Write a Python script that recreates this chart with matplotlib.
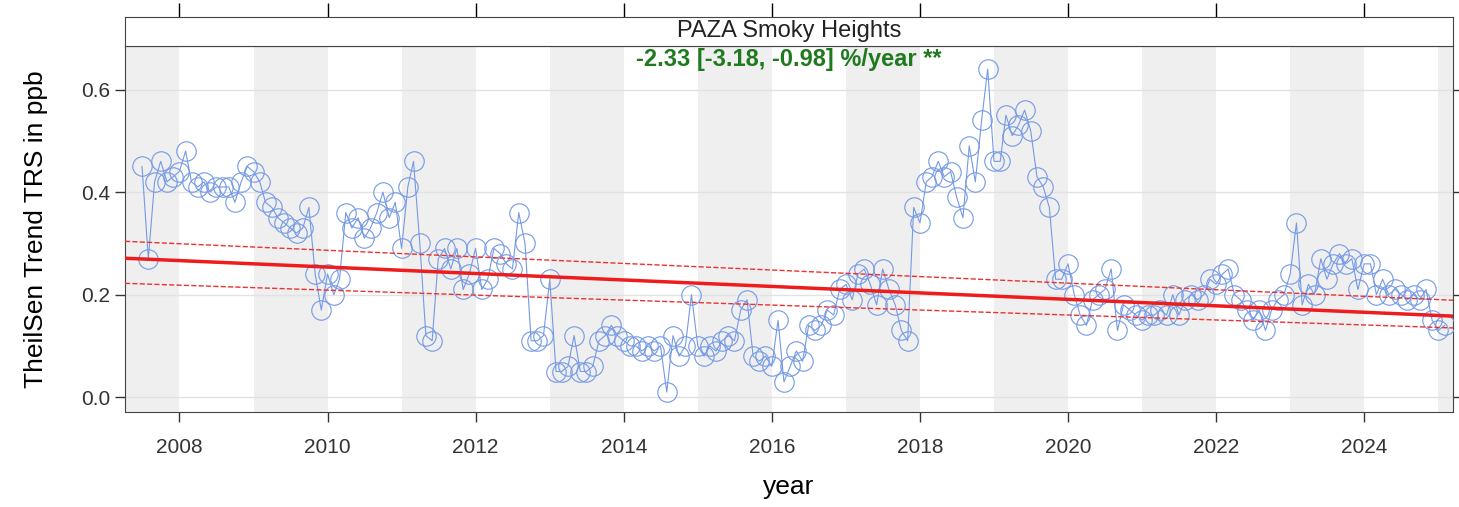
import matplotlib.pyplot as plt
import matplotlib.dates as mdates
import pandas as pd

plt.rcParams['font.family'] = ['Liberation Sans', 'DejaVu Sans']

# monthly mean TRS (ppb), Jul 2007 .. Feb 2025
trs = [
    0.45, 0.27, 0.42, 0.46, 0.42, 0.43,                                      # 2007
    0.44, 0.48, 0.42, 0.41, 0.42, 0.40, 0.41, 0.41, 0.41, 0.38, 0.42, 0.45,  # 2008
    0.44, 0.42, 0.38, 0.37, 0.35, 0.34, 0.33, 0.32, 0.33, 0.37, 0.24, 0.17,  # 2009
    0.24, 0.20, 0.23, 0.36, 0.33, 0.35, 0.31, 0.33, 0.36, 0.40, 0.35, 0.38,  # 2010
    0.29, 0.41, 0.46, 0.30, 0.12, 0.11, 0.27, 0.29, 0.25, 0.29, 0.21, 0.24,  # 2011
    0.29, 0.21, 0.23, 0.29, 0.28, 0.26, 0.25, 0.36, 0.30, 0.11, 0.11, 0.12,  # 2012
    0.23, 0.05, 0.05, 0.06, 0.12, 0.05, 0.05, 0.06, 0.11, 0.12, 0.14, 0.12,  # 2013
    0.11, 0.10, 0.10, 0.09, 0.10, 0.09, 0.10, 0.01, 0.12, 0.08, 0.10, 0.20,  # 2014
    0.10, 0.08, 0.10, 0.09, 0.11, 0.12, 0.11, 0.17, 0.19, 0.08, 0.07, 0.08,  # 2015
    0.06, 0.15, 0.03, 0.06, 0.09, 0.07, 0.14, 0.13, 0.14, 0.17, 0.16, 0.21,  # 2016
    0.22, 0.19, 0.24, 0.25, 0.22, 0.18, 0.25, 0.21, 0.18, 0.13, 0.11, 0.37,  # 2017
    0.34, 0.42, 0.43, 0.46, 0.43, 0.44, 0.39, 0.35, 0.49, 0.42, 0.54, 0.64,  # 2018
    0.46, 0.46, 0.55, 0.51, 0.53, 0.56, 0.52, 0.43, 0.41, 0.37, 0.23, 0.23,  # 2019
    0.26, 0.20, 0.16, 0.14, 0.19, 0.20, 0.21, 0.25, 0.13, 0.18, 0.17, 0.16,  # 2020
    0.15, 0.16, 0.16, 0.17, 0.16, 0.20, 0.16, 0.19, 0.20, 0.19, 0.20, 0.23,  # 2021
    0.22, 0.24, 0.25, 0.20, 0.19, 0.17, 0.15, 0.17, 0.13, 0.17, 0.19, 0.20,  # 2022
    0.24, 0.34, 0.18, 0.22, 0.20, 0.27, 0.23, 0.26, 0.28, 0.26, 0.27, 0.21,  # 2023
    0.26, 0.26, 0.20, 0.23, 0.20, 0.21, 0.20, 0.19, 0.20, 0.19, 0.21, 0.15,  # 2024
    0.13, 0.14,                                                              # 2025
]
dates = pd.date_range('2007-07-01', periods=len(trs), freq='MS')

# trend line and its confidence bounds at the axis ends
x_ends = [pd.Timestamp('2007-04-08'), pd.Timestamp('2025-03-14')]
trend = [0.271, 0.158]
upper = [0.304, 0.189]
lower = [0.222, 0.135]

site = 'PAZA Smoky Heights'
slope_txt = '-2.33 [-3.18, -0.98] %/year **'
year_ticks = list(range(2008, 2025, 2))

fig = plt.figure(figsize=(14.59, 5.07), dpi=100)
ax = fig.add_axes([125 / 1459, 95 / 507, 1328 / 1459, 366 / 507])
strip = fig.add_axes([125 / 1459, 461 / 507, 1328 / 1459, 29 / 507], sharex=ax)

# alternate-year shading
for yr in range(2007, 2026, 2):
    ax.axvspan(pd.Timestamp(f'{yr}-01-01'), pd.Timestamp(f'{yr + 1}-01-01'),
               color='#efefef', lw=0, zorder=0)
for yv in [0.0, 0.2, 0.4, 0.6]:
    ax.axhline(yv, color='#e2e2e2', lw=1, zorder=1)

ax.plot(dates, trs, '-', color='#7499e6', lw=0.8, zorder=2)
ax.plot(dates, trs, 'o', mfc='none', mec='#7499e6', ms=14, mew=0.8, zorder=3)

ax.plot(x_ends, trend, color='#ee1c1c', lw=2.5, zorder=4)
ax.plot(x_ends, upper, '--', color='#ee3030', lw=1, zorder=4)
ax.plot(x_ends, lower, '--', color='#ee3030', lw=1, zorder=4)

ax.set_xlim(x_ends[0], x_ends[1])
ax.set_ylim(-0.029, 0.685)
ax.set_xticks([pd.Timestamp(f'{y}-01-01') for y in year_ticks])
ax.xaxis.set_major_formatter(mdates.DateFormatter('%Y'))
ax.set_yticks([0.0, 0.2, 0.4, 0.6])
ax.set_yticklabels(['0.0', '0.2', '0.4', '0.6'])
ax.tick_params(axis='both', direction='out', length=7, labelsize=15, colors='#333333',
               right=True, width=1)
ax.tick_params(axis='x', pad=12)
ax.set_xlabel('year', fontsize=19, labelpad=13)
ax.set_ylabel('TheilSen Trend TRS in ppb', fontsize=19, labelpad=24)
for sp in ax.spines.values():
    sp.set_color('#444444')

ax.text(0.5, 0.962, slope_txt, transform=ax.transAxes, ha='center', va='center',
        color='#1f7a1f', fontsize=17, fontweight='bold')

strip.set_facecolor('white')
strip.set_yticks([])
strip.tick_params(axis='x', top=True, bottom=False, labeltop=False, labelbottom=False,
                  direction='out', length=10, width=1)
strip.text(0.5, 0.5, site, transform=strip.transAxes, ha='center', va='center',
           fontsize=17, color='#222222')
for sp in strip.spines.values():
    sp.set_color('#444444')

fig.savefig('out.png', dpi=100)
